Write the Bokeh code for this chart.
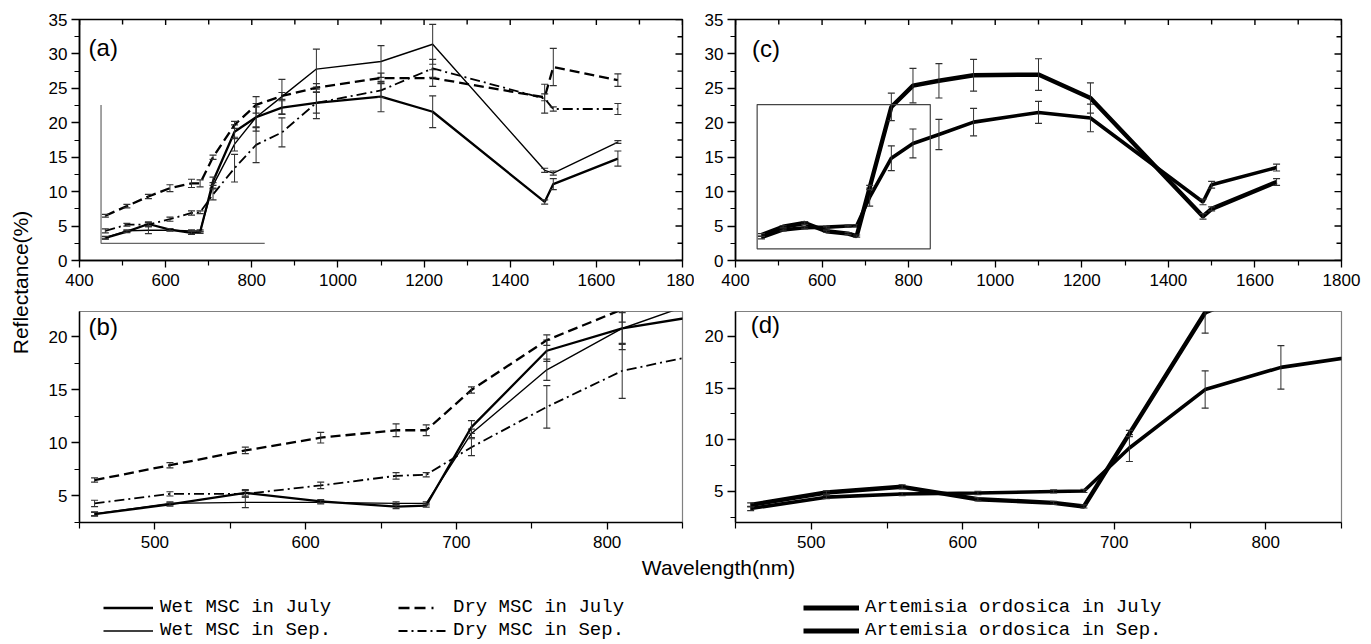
import math
from bokeh.plotting import figure
from bokeh.models import (Range1d, LinearAxis, FixedTicker, Label, Legend,
                          LegendItem, BoxAnnotation)
from bokeh.layouts import row, column
from bokeh.embed import file_html
from bokeh.resources import INLINE

# ---------------- data ----------------
wavelength = [460, 510, 560, 610, 660, 680, 710, 760, 810, 870, 950, 1100, 1220, 1480, 1500, 1650]

wet_july = [3.3, 4.2, 5.3, 4.5, 4.0, 4.1, 11.5, 18.7, 20.8, 22.2, 22.9, 23.8, 21.6, 8.5, 11.1, 14.8]
wet_july_err = [0.2, 0.15, 0.3, 0.15, 0.2, 0.15, 0.6, 1.0, 1.5, 1.0, 1.5, 2.2, 2.3, 0.3, 0.8, 1.1]
wet_sep = [3.3, 4.3, 4.4, 4.4, 4.3, 4.3, 10.9, 16.9, 20.8, 23.8, 27.8, 28.9, 31.4, 13.1, 12.7, 17.2]
wet_sep_err = [0.15, 0.15, 0.5, 0.15, 0.15, 0.15, 0.4, 1.0, 2.0, 2.5, 2.9, 2.3, 2.9, 0.3, 0.3, 0.2]
dry_july = [6.5, 7.9, 9.3, 10.5, 11.2, 11.2, 15.0, 19.7, 22.6, 23.9, 25.1, 26.5, 26.5, 23.7, 28.1, 26.2]
dry_july_err = [0.2, 0.25, 0.3, 0.5, 0.6, 0.5, 0.3, 0.5, 1.2, 0.5, 0.6, 0.7, 1.2, 0.5, 2.7, 0.9]
dry_sep = [4.3, 5.2, 5.2, 6.0, 6.9, 7.0, 9.6, 13.4, 16.8, 18.6, 22.9, 24.7, 27.9, 23.5, 22.0, 22.0]
dry_sep_err = [0.3, 0.2, 0.3, 0.3, 0.3, 0.2, 0.8, 2.0, 2.6, 2.1, 2.3, 1.0, 1.3, 2.1, 0.3, 0.8]

art_july = [3.7, 4.9, 5.45, 4.25, 3.9, 3.55, 10.6, 22.3, 25.4, 26.1, 26.9, 27.0, 23.6, 6.4, 7.5, 11.4]
art_july_err = [0.2, 0.15, 0.2, 0.15, 0.15, 0.15, 0.3, 2.0, 2.5, 2.5, 2.3, 2.3, 2.2, 0.4, 0.3, 0.5]
art_sep = [3.35, 4.45, 4.75, 4.85, 5.0, 5.05, 9.2, 14.85, 17.0, 18.3, 20.1, 21.5, 20.7, 8.5, 11.0, 13.5]
art_sep_err = [0.2, 0.15, 0.15, 0.15, 0.15, 0.15, 1.3, 1.8, 2.1, 2.2, 2.0, 1.6, 2.0, 0.4, 0.5, 0.5]

labels_legend = ["Wet MSC in July", "Wet MSC in Sep.", "Dry MSC in July", "Dry MSC in Sep.",
                 "Artemisia ordosica in July", "Artemisia ordosica in Sep."]

full_x_ticks = [400, 600, 800, 1000, 1200, 1400, 1600, 1800]
full_x_minor = [500, 700, 900, 1100, 1300, 1500, 1700]
full_y_ticks = [0, 5, 10, 15, 20, 25, 30, 35]
full_y_minor = [2.5, 7.5, 12.5, 17.5, 22.5, 27.5, 32.5]
zoom_x_ticks = [500, 600, 700, 800]
zoom_x_minor = [450, 550, 650, 750, 850]
zoom_y_ticks = [5, 10, 15, 20]
zoom_y_minor = [2.5, 7.5, 12.5, 17.5, 22.5]

# zoom boxes drawn in the full-range panels
inset_a = (450, 830, 2.5, 22.6)
inset_c = (450, 850, 1.7, 22.65)

FONT = "Liberation Sans"
TICK_SIZE = "17px"


def style_axis(ax, tick_out, minor_out):
    ax.axis_line_color = "black"
    ax.axis_line_width = 1.5
    ax.major_tick_line_color = "black"
    ax.major_tick_line_width = 1.3
    ax.minor_tick_line_color = "black"
    ax.minor_tick_line_width = 1.2
    ax.major_tick_out = tick_out
    ax.major_tick_in = 0
    ax.minor_tick_out = minor_out
    ax.minor_tick_in = 0
    ax.major_label_text_font = FONT
    ax.major_label_text_font_size = TICK_SIZE
    ax.major_label_text_color = "black"


def make_panel(width, height, xr, yr, xt, xm, yt, ym, borders, mirror, outline, overrides=None):
    bl, br, bt, bb = borders
    p = figure(width=width, height=height, x_range=Range1d(*xr), y_range=Range1d(*yr),
               toolbar_location=None, output_backend="svg",
               x_axis_type=None, y_axis_type=None,
               min_border_left=bl, min_border_right=br,
               min_border_top=bt, min_border_bottom=bb)
    p.background_fill_color = "white"
    p.border_fill_color = "white"
    p.outline_line_color = outline
    p.outline_line_width = 1.5 if mirror else 1.2
    xa = LinearAxis(ticker=FixedTicker(ticks=xt, minor_ticks=xm))
    style_axis(xa, 7, 5 if mirror else 6)
    xa.major_label_standoff = 6
    if overrides:
        xa.major_label_overrides = overrides
    p.add_layout(xa, "below")
    ya = LinearAxis(ticker=FixedTicker(ticks=yt, minor_ticks=ym))
    style_axis(ya, 8, 5)
    ya.major_label_standoff = 4
    p.add_layout(ya, "left")
    if mirror:
        # inward ticks on the top and right frame edges (half of each dash is clipped by the frame)
        top, right = yr[1], xr[1]
        for ticks, size in ((xt, 11), (xm, 10)):
            p.scatter(x=ticks, y=[top] * len(ticks), marker="dash", angle=math.pi / 2,
                      size=size, line_color="black", line_width=1.4)
        for ticks, size in ((yt, 14), (ym, 10)):
            p.scatter(x=[right] * len(ticks), y=ticks, marker="dash",
                      size=size, line_color="black", line_width=1.4)
    return p


def add_series(p, y, err, width, dash="solid"):
    p.line(wavelength, y, line_color="black", line_width=width, line_dash=dash)
    lo = [v - e for v, e in zip(y, err)]
    hi = [v + e for v, e in zip(y, err)]
    p.segment(x0=wavelength, y0=lo, x1=wavelength, y1=hi, line_color="#303030", line_width=1)
    p.scatter(x=wavelength, y=hi, marker="dash", size=7, line_color="#303030", line_width=1.2)
    p.scatter(x=wavelength, y=lo, marker="dash", size=7, line_color="#303030", line_width=1.2)


def add_msc(p):
    add_series(p, wet_sep, wet_sep_err, 1.4)
    add_series(p, wet_july, wet_july_err, 2.3)
    add_series(p, dry_july, dry_july_err, 2.3, "10 5")
    add_series(p, dry_sep, dry_sep_err, 1.8, "10 4 2 4")


def add_art(p):
    add_series(p, art_sep, art_sep_err, 3.6)
    add_series(p, art_july, art_july_err, 4.4)


def panel_label(p, text, x, y):
    p.add_layout(Label(x=x, y=y, text=text, text_font=FONT, text_font_size="24px",
                       text_align="left", text_baseline="middle", text_color="black"))


# ---------------- panels ----------------
TOP_H, BOT_H = 295, 260
pa = make_panel(656, TOP_H, (400, 1800), (0, 35), full_x_ticks, full_x_minor,
                full_y_ticks, full_y_minor, (41, 12, 19, 35), True, "black",
                overrides={1800: "180"})
add_msc(pa)
pa.line([inset_a[0], inset_a[0], inset_a[1]], [inset_a[3], inset_a[2], inset_a[2]],
        line_color="#666666", line_width=1.2)
panel_label(pa, "(a)", 421, 31.0)

pc = make_panel(669, TOP_H, (400, 1800), (0, 35), full_x_ticks, full_x_minor,
                full_y_ticks, full_y_minor, (41, 22, 19, 35), True, "black")
add_art(pc)
pc.add_layout(BoxAnnotation(left=inset_c[0], right=inset_c[1], bottom=inset_c[2], top=inset_c[3],
                            fill_color=None, fill_alpha=0, line_color="#444444",
                            line_alpha=1.0, line_width=1.2))
panel_label(pc, "(c)", 438, 30.8)

pb = make_panel(656, BOT_H, (450, 850), (2.5, 22.4), zoom_x_ticks, zoom_x_minor,
                zoom_y_ticks, zoom_y_minor, (41, 12, 16, 33), False, "#808080")
add_msc(pb)
panel_label(pb, "(b)", 456, 21.0)

pd = make_panel(669, BOT_H, (450, 850), (2.0, 22.4), zoom_x_ticks, zoom_x_minor,
                zoom_y_ticks, zoom_y_minor, (41, 22, 16, 33), False, "#808080")
add_art(pd)
panel_label(pd, "(d)", 460, 21.1)

# ---------------- y label column ----------------
YL_W = 38
py = figure(width=YL_W, height=TOP_H + BOT_H, x_range=Range1d(0, YL_W),
            y_range=Range1d(0, TOP_H + BOT_H), toolbar_location=None, output_backend="svg",
            x_axis_type=None, y_axis_type=None, min_border=0)
py.outline_line_color = None
py.add_layout(Label(x=20, y=273, text="Reflectance(%)", angle=math.pi / 2,
                    text_align="center", text_baseline="middle",
                    text_font=FONT, text_font_size="21px", text_color="black"))

# ---------------- legend strip ----------------
LEG_W, LEG_H = 1363, 87
pl = figure(width=LEG_W, height=LEG_H, x_range=Range1d(0, LEG_W), y_range=Range1d(0, LEG_H),
            toolbar_location=None, output_backend="svg",
            x_axis_type=None, y_axis_type=None, min_border=0)
pl.outline_line_color = None
pl.add_layout(Label(x=718, y=LEG_H - 12, text="Wavelength(nm)", text_align="center",
                    text_baseline="middle", text_font=FONT, text_font_size="21px",
                    text_color="black"))

# hidden stand-in renderers (outside the visible range) that give the legend its line styles
hx, hy = [-20, -10], [-20, -20]
r_wj = pl.line(x=hx, y=hy, line_color="black", line_width=2.4)
r_ws = pl.line(x=hx, y=hy, line_color="black", line_width=1.6)
r_dj = pl.line(x=hx, y=hy, line_color="black", line_width=2.4, line_dash="11 5 11 6 2 20")
r_ds = pl.line(x=hx, y=hy, line_color="black", line_width=1.8, line_dash="9 4 2 4")
r_aj = pl.line(x=hx, y=hy, line_color="black", line_width=5)
r_as = pl.line(x=hx, y=hy, line_color="black", line_width=5)


def make_legend(items, x, gw, standoff):
    lg = Legend(items=[LegendItem(label=t, renderers=[r]) for t, r in items],
                location=(x, 1), orientation="vertical", padding=0, margin=0, spacing=1,
                glyph_width=gw, glyph_height=21, label_height=21, label_standoff=standoff,
                label_text_font="Liberation Mono", label_text_font_size="19px",
                label_text_color="black", border_line_color=None,
                background_fill_alpha=0)
    pl.add_layout(lg)


make_legend([(labels_legend[0], r_wj), (labels_legend[1], r_ws)], 103, 50, 7)
make_legend([(labels_legend[2], r_dj), (labels_legend[3], r_ds)], 398, 48, 7)
make_legend([(labels_legend[4], r_aj), (labels_legend[5], r_as)], 803, 56, 6)

layout = column(row(py, column(row(pa, pc), row(pb, pd))), pl)

open("out.html", "w").write(file_html(layout, INLINE))
